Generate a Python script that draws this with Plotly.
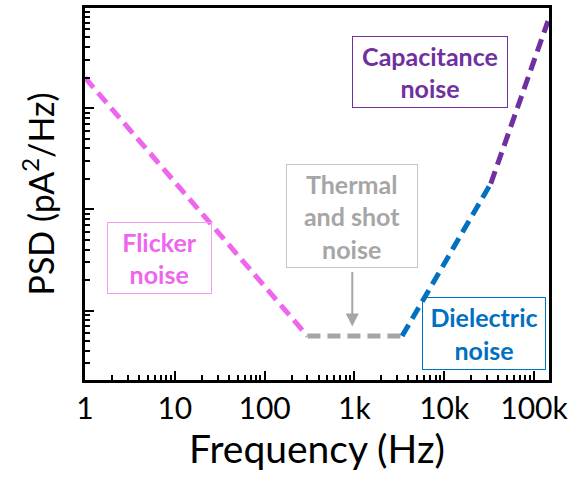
import numpy as np
import plotly.graph_objects as go

# Data (frequency in Hz, PSD in pA^2/Hz)
flicker_f = [1, 300]
flicker_psd = [2000, 5.6]
thermal_f = [300, 3400]
thermal_psd = [5.6, 5.6]
dielectric_f = [3400, 33000]
dielectric_psd = [5.6, 180]
capacitance_f = [33000, 143000]
capacitance_psd = [180, 7250]

x_tickvals = [1, 10, 100, 1000, 10000, 100000]
x_ticktext = ["1", "10", "100", "1k", "10k", "100k"]
y_tickvals = [10, 100, 1000]

x_minor = [m * 10 ** d for d in range(0, 6) for m in range(2, 10)]
y_minor = [m * 10 ** d for d in range(0, 4) for m in range(2, 10)]

MAGENTA = "#EE66EE"
GRAY = "#A6A6A6"
BLUE = "#0070C0"
PURPLE = "#7030A0"
FONT = "Lato"

fig = go.Figure()
for fx, fy, col in [(flicker_f, flicker_psd, MAGENTA),
                    (thermal_f, thermal_psd, GRAY),
                    (dielectric_f, dielectric_psd, BLUE),
                    (capacitance_f, capacitance_psd, PURPLE)]:
    fig.add_trace(go.Scatter(x=fx, y=fy, mode="lines",
                             line=dict(color=col, width=5, dash="13px,7px"),
                             showlegend=False, hoverinfo="skip"))

def box(text, cx, cy, w, h, col, border):
    fig.add_annotation(xref="paper", yref="paper", x=cx, y=cy,
                       xanchor="center", yanchor="middle",
                       text=text, showarrow=False, width=w, height=h,
                       align="center", valign="middle",
                       bordercolor=border, borderwidth=1, borderpad=0,
                       font=dict(family=FONT, size=25, color=col, weight="bold"))

box("Capacitance<br>noise", 0.744, 0.829, 154, 70, PURPLE, PURPLE)
box("Thermal<br>and shot<br>noise", 0.576, 0.44, 130, 102, GRAY, "#C8C8C8")
box("Flicker<br>noise", 0.160, 0.328, 103, 70, MAGENTA, "#F0A0F0")
box("Dielectric<br>noise", 0.860, 0.124, 122, 71, BLUE, BLUE)

fig.add_annotation(xref="paper", yref="paper", x=0.576, y=0.144,
                   ax=0, ay=-56, text="", showarrow=True,
                   arrowcolor=GRAY, arrowwidth=2, arrowhead=2, arrowsize=1.3)

fig.update_layout(
    width=573, height=480,
    margin=dict(l=85, r=23, t=5, b=100),
    plot_bgcolor="white", paper_bgcolor="white",
    font=dict(family=FONT, color="black"),
    xaxis=dict(type="log", range=[0, 5.167],
               tickvals=x_tickvals, ticktext=x_ticktext,
               ticks="inside", ticklen=9, tickwidth=2, tickcolor="black",
               minor=dict(ticks="inside", ticklen=5, tickwidth=1.5, tickcolor="black",
                          tickmode="array", tickvals=x_minor, showgrid=False),
               showline=True, linewidth=3, linecolor="black", mirror=True,
               showgrid=False, zeroline=False,
               tickfont=dict(size=30, family=FONT),
               title=dict(text="Frequency (Hz)", font=dict(size=39, family=FONT), standoff=6)),
    yaxis=dict(type="log", range=[0.314, 3.99],
               tickvals=y_tickvals,
               ticks="inside", ticklen=9, tickwidth=2, tickcolor="black",
               minor=dict(ticks="inside", ticklen=5, tickwidth=1.5, tickcolor="black",
                          tickmode="array", tickvals=y_minor, showgrid=False),
               showticklabels=False,
               showline=True, linewidth=3, linecolor="black", mirror=True,
               showgrid=False, zeroline=False,
               title=dict(text="PSD (pA<sup>2</sup>/Hz)", font=dict(size=34, family=FONT), standoff=18)),
)

fig.write_html("out.html")
